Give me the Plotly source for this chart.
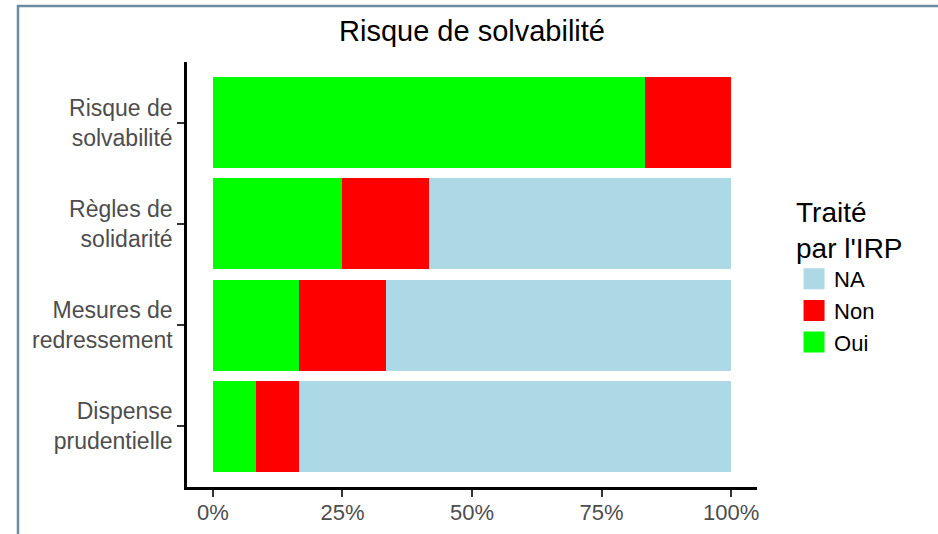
import plotly.graph_objects as go

categories = ["Risque de<br>solvabilité", "Règles de<br>solidarité",
              "Mesures de<br>redressement", "Dispense<br>prudentielle"]
oui = [83.3, 25.0, 16.7, 8.3]
non = [16.7, 16.7, 16.7, 8.3]
na = [0.0, 58.3, 66.6, 83.4]
series_names = ["Oui", "Non", "NA"]
series_values = [oui, non, na]
series_colors = ["#00FF00", "#FF0000", "#ADD8E6"]
x_tickvals = [0, 25, 50, 75, 100]
x_ticktext = ["0%", "25%", "50%", "75%", "100%"]

FONT = "Arial, Liberation Sans, sans-serif"

fig = go.Figure()
for name, vals, col in zip(series_names, series_values, series_colors):
    fig.add_trace(go.Bar(
        y=categories, x=vals, name=name, orientation="h",
        marker=dict(color=col, line=dict(width=0)), width=0.9,
        legendgroup=name, showlegend=False,
        hoverinfo="x+y+name",
    ))
# legend keys (bigger squares than the default bar legend symbol)
for name, col in zip(series_names, series_colors):
    fig.add_trace(go.Scatter(
        x=[None], y=[None], mode="markers", name=name, legendgroup=name,
        marker=dict(symbol="square", size=16, color=col,
                    line=dict(color=col, width=5)),
        hoverinfo="skip", showlegend=True,
    ))

fig.update_layout(
    width=938, height=534,
    barmode="stack",
    paper_bgcolor="white", plot_bgcolor="white",
    margin=dict(l=187, r=181, t=62, b=47, autoexpand=False),
    title=dict(text="Risque de solvabilité", x=0.5, xref="paper",
               y=1 - 31 / 534, yref="container", yanchor="middle",
               font=dict(family=FONT, size=29, color="black")),
    font=dict(family=FONT),
    showlegend=True,
    legend=dict(
        title=dict(text="Traité<br>par l'IRP", font=dict(family=FONT, size=28, color="black"), side="top"),
        font=dict(family=FONT, size=22, color="black"),
        traceorder="reversed",
        x=1.065, xanchor="left", y=0.71, yanchor="top",
        bgcolor="rgba(0,0,0,0)",
        itemclick=False, itemdoubleclick=False,
        itemwidth=30,
    ),
)

fig.update_xaxes(
    range=[-5, 105], tickvals=x_tickvals, ticktext=x_ticktext,
    showline=True, linecolor="black", linewidth=2.5,
    ticks="outside", ticklen=7, tickwidth=2, tickcolor="#333333",
    tickfont=dict(family=FONT, size=22, color="#4D4D4D"),
    ticklabelstandoff=-3,
    showgrid=False, zeroline=False, fixedrange=True,
)
fig.update_yaxes(
    categoryorder="array", categoryarray=categories,
    range=[3.6, -0.6],
    showline=True, linecolor="black", linewidth=2.5,
    ticks="outside", ticklen=7, tickwidth=2, tickcolor="#333333",
    tickfont=dict(family=FONT, size=23, color="#4D4D4D"),
    showgrid=False, zeroline=False, fixedrange=True,
)

# outer frame of the picture
fig.add_shape(type="rect", xref="paper", yref="paper",
              x0=(18 - 187) / 570, x1=(1000 - 187) / 570,
              y0=(487 - 600) / 425, y1=(487 - 6) / 425,
              line=dict(color="#6A8CA3", width=2.5), fillcolor="rgba(0,0,0,0)",
              layer="above")

fig.write_html("out.html", config={"displayModeBar": False},
               post_script="document.body.style.margin='0';document.body.style.overflow='hidden';")
